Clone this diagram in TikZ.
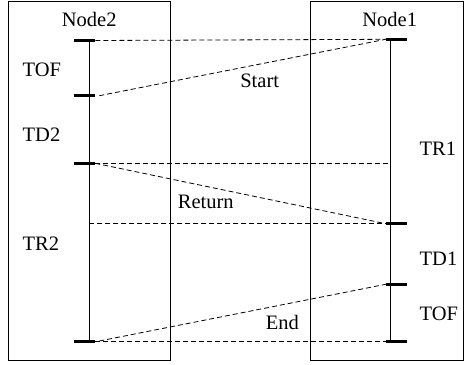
\documentclass[tikz,border=0pt]{standalone}
\usepackage{fontspec}
\setmainfont{Liberation Serif}
\usetikzlibrary{positioning}
\tikzstyle{node_box} = [draw, line width=1pt, rectangle, inner sep=0pt]
\tikzstyle{time_line} = [line width=1pt]
\tikzstyle{tick} = [line width=3pt]
\tikzstyle{msg} = [dash pattern=on 5pt off 3pt, line width=0.8pt]
\tikzstyle{lbl} = [font=\fontsize{20.5}{24}\selectfont, inner sep=0pt, anchor=base]
\tikzstyle{side_lbl} = [lbl, anchor=base west]

\begin{document}
\begin{tikzpicture}[x=1pt,y=-1pt]
      \useasboundingbox (0,0) rectangle (465,364);

      %%%%%%%%%%%%%%%%%%%%%%%%%%%%%%%%%%%%%%%%%%%%%%%%%
      % BOXES
      %%%%%%%%%%%%%%%%%%%%%%%%%%%%%%%%%%%%%%%%%%%%%%%%%
      \node[node_box, minimum width=162pt, minimum height=358.5pt] (N2BOX) at (89.5,180.75) {};
      \node[node_box, minimum width=153.5pt, minimum height=358.5pt] (N1BOX) at (386.75,180.75) {};
      \node[lbl] (N2) at (89.2,26.7) {Node2};
      \node[lbl] (N1) at (389.7,26.7) {Node1};

      %%%%%%%%%%%%%%%%%%%%%%%%%%%%%%%%%%%%%%%%%%%%%%%%%
      % TIME LINES
      %%%%%%%%%%%%%%%%%%%%%%%%%%%%%%%%%%%%%%%%%%%%%%%%%
      \coordinate (A1) at (89.3,40.5);
      \coordinate (A2) at (89.3,95.7);
      \coordinate (A3) at (89.3,163.3);
      \coordinate (A4) at (89.3,341);
      \coordinate (AX) at (89.3,223.7);
      \coordinate (B1) at (390.7,39.3);
      \coordinate (B2) at (390.7,223.7);
      \coordinate (B3) at (390.7,284.3);
      \coordinate (B4) at (390.7,341);
      \coordinate (BX) at (390.7,163.3);
      \draw[time_line] (A1) -- (A4);
      \draw[time_line] (B1) -- (B4);
      \draw[tick] ([xshift=-15pt]A1) -- ([xshift=6pt]A1);
      \draw[tick] ([xshift=-15pt]A2) -- ([xshift=6pt]A2);
      \draw[tick] ([xshift=-15pt]A3) -- ([xshift=6pt]A3);
      \draw[tick] ([xshift=-15pt]A4) -- ([xshift=6pt]A4);
      \draw[tick] ([xshift=-5pt]B1) -- ([xshift=16pt]B1);
      \draw[tick] ([xshift=-5pt]B2) -- ([xshift=16pt]B2);
      \draw[tick] ([xshift=-5pt]B3) -- ([xshift=16pt]B3);
      \draw[tick] ([xshift=-5pt]B4) -- ([xshift=16pt]B4);

      %%%%%%%%%%%%%%%%%%%%%%%%%%%%%%%%%%%%%%%%%%%%%%%%%
      % MESSAGES
      %%%%%%%%%%%%%%%%%%%%%%%%%%%%%%%%%%%%%%%%%%%%%%%%%
      \draw[msg] ([xshift=6pt]A1) -- ([xshift=-5pt]B1);
      \draw[msg] ([xshift=10pt]A2) -- ([xshift=-5pt]B1);
      \draw[msg] ([xshift=6pt]A3) -- (BX);
      \draw[msg] ([xshift=6pt]A3) -- ([xshift=-5pt]B2);
      \draw[msg] (AX) -- ([xshift=-5pt]B2);
      \draw[msg] ([xshift=10pt]A4) -- ([xshift=-5pt]B3);
      \draw[msg] ([xshift=6pt]A4) -- ([xshift=-5pt]B4);

      %%%%%%%%%%%%%%%%%%%%%%%%%%%%%%%%%%%%%%%%%%%%%%%%%
      % LABELS
      %%%%%%%%%%%%%%%%%%%%%%%%%%%%%%%%%%%%%%%%%%%%%%%%%
      \node[lbl] (START) at (259.7,87.3) {Start};
      \node[lbl] (RET) at (205.8,208.3) {Return};
      \node[lbl] (END) at (282.3,329.3) {End};
      \node[side_lbl] (TOF2) at (22.5,76) {TOF};
      \node[side_lbl] (TD2) at (22.5,141) {TD2};
      \node[side_lbl] (TR2) at (22.5,250.7) {TR2};
      \node[side_lbl] (TR1) at (419.5,155) {TR1};
      \node[side_lbl] (TD1) at (419.5,265) {TD1};
      \node[side_lbl] (TOF1) at (419.5,320) {TOF};
\end{tikzpicture}
\end{document}
